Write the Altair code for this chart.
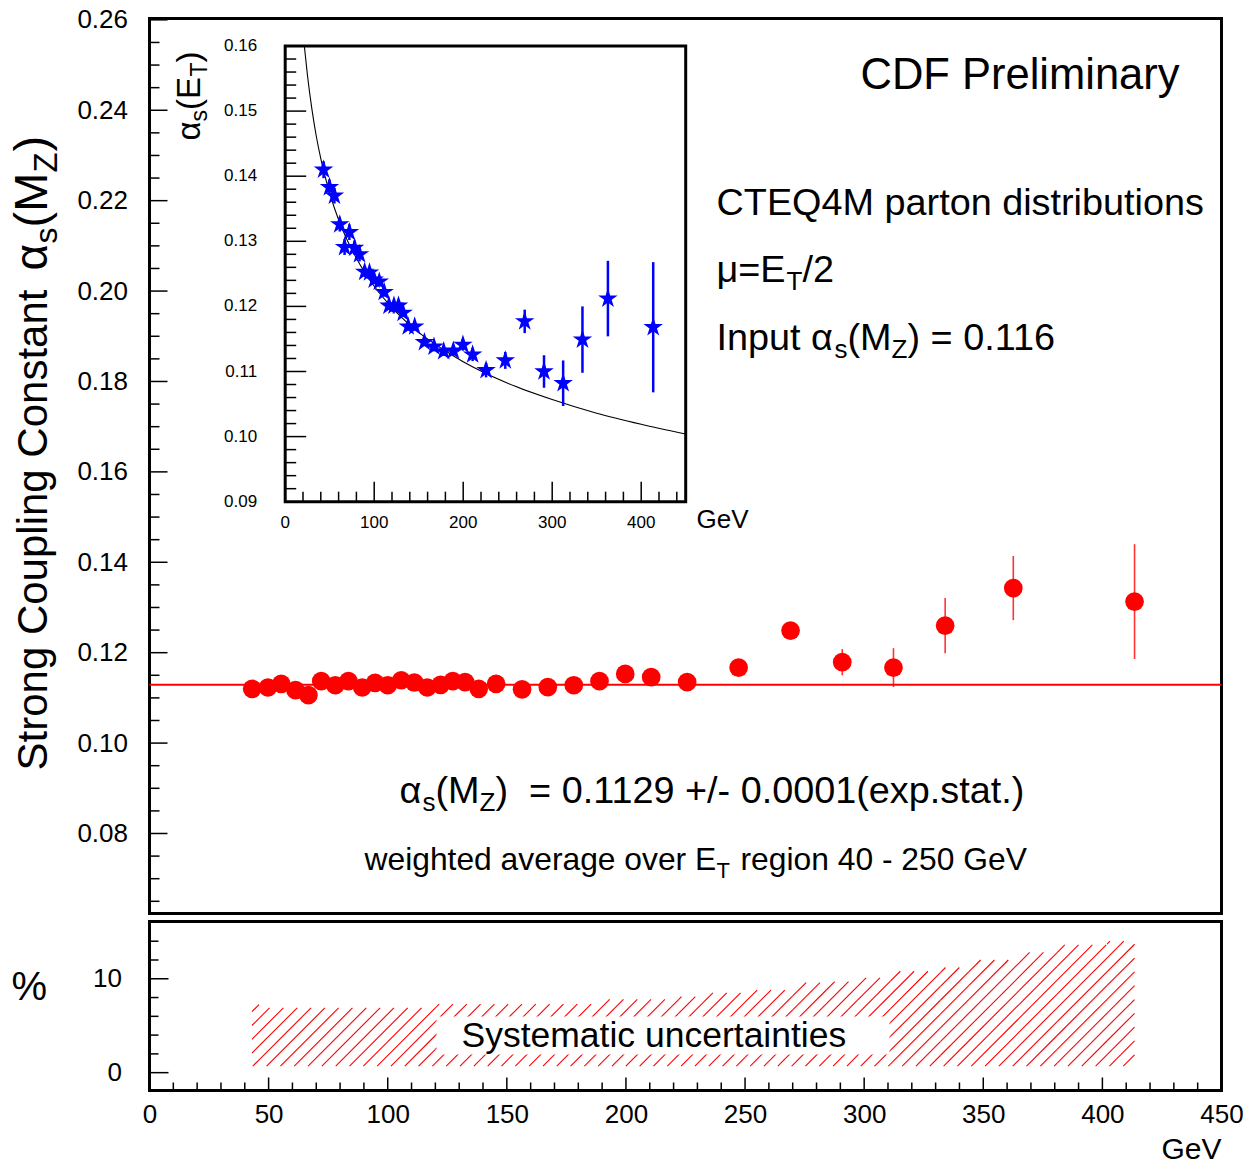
import math
import altair as alt
import pandas as pd

FONT = "Liberation Sans, Arial, Helvetica, sans-serif"

# ---------------------------------------------------------------- data ----
# jet transverse energy of each bin (GeV)
et = [43.1, 49.7, 55.3, 61.3, 66.7, 72.1, 78.0, 83.5, 89.3, 94.7, 100.0,
      105.7, 111.2, 116.6, 122.2, 127.3, 132.5, 138.2, 145.5, 156.4, 167.2,
      178.1, 188.9, 199.7, 210.6, 225.7, 247.3, 269.1, 290.8, 312.3, 334.0,
      362.6, 413.5]

# alpha_s(M_Z) extracted in each bin, with statistical error
alpha_mz = [0.1120, 0.1123, 0.1131, 0.1117, 0.1106, 0.1137, 0.1128, 0.1137,
            0.1123, 0.1133, 0.1128, 0.1139, 0.1134, 0.1123, 0.1129, 0.1137,
            0.1135, 0.1120, 0.1131, 0.1119, 0.1124, 0.1128, 0.1137, 0.1153,
            0.1146, 0.1135, 0.1167, 0.1249, 0.1179, 0.1167, 0.1260, 0.1343,
            0.1313]
alpha_mz_err = [0.0008, 0.0008, 0.0008, 0.0007, 0.0008, 0.0008, 0.0007,
                0.0007, 0.0005, 0.0005, 0.0005, 0.0005, 0.0005, 0.0004,
                0.0004, 0.0004, 0.0004, 0.0004, 0.0004, 0.0004, 0.0005,
                0.0005, 0.0006, 0.0007, 0.0008, 0.0009, 0.0011, 0.0019,
                0.0029, 0.0043, 0.0061, 0.0071, 0.0127]

# alpha_s(E_T) measured at the scale of each bin
alpha_et = [0.1410, 0.1383, 0.1370, 0.1326, 0.1291, 0.1314, 0.1290, 0.1280,
            0.1253, 0.1252, 0.1241, 0.1238, 0.1222, 0.1201, 0.1201, 0.1201,
            0.1190, 0.1169, 0.1169, 0.1145, 0.1138, 0.1131, 0.1132, 0.1141,
            0.1126, 0.1102, 0.1117, 0.1177, 0.1100, 0.1082, 0.1149, 0.1212,
            0.1168]
alpha_et_err = [0.0013, 0.0012, 0.0012, 0.0011, 0.0012, 0.0012, 0.0011,
                0.0011, 0.0008, 0.0008, 0.0007, 0.0007, 0.0007, 0.0006,
                0.0006, 0.0006, 0.0006, 0.0006, 0.0006, 0.0006, 0.0007,
                0.0007, 0.0008, 0.0009, 0.0010, 0.0011, 0.0013, 0.0018,
                0.0025, 0.0035, 0.0051, 0.0058, 0.0100]

# weighted average over 40 - 250 GeV
alpha_mz_avg = 0.1129

# running coupling alpha_s(E_T) for the average value
curve_et = [21.5, 25, 30, 35, 40, 50, 60, 70, 80, 90, 100, 125, 150, 175,
            200, 250, 300, 350, 400, 450]
curve_alpha = [0.1600, 0.1555, 0.1503, 0.1461, 0.1427, 0.1374, 0.1333,
               0.1301, 0.1274, 0.1251, 0.1231, 0.1191, 0.1160, 0.1136,
               0.1115, 0.1082, 0.1057, 0.1036, 0.1019, 0.1004]

# systematic uncertainty band (%): bin edges and upper edge per bin
sys_edges = [43, 46, 120, 190, 222, 231, 250, 270, 284, 297, 311, 332, 344,
             365, 381, 402, 413.5]
sys_upper = [7.5, 6.9, 7.3, 7.8, 8.1, 8.5, 8.8, 9.6, 9.7, 10.1, 10.8, 11.2,
             12.0, 12.8, 13.6, 14.0]
sys_lower = 0.7

# axis tick values
main_y_major = [0.08, 0.10, 0.12, 0.14, 0.16, 0.18, 0.20, 0.22, 0.24, 0.26]
main_y_minor = [round(0.065 + 0.005 * i, 3) for i in range(39)
                if round((0.065 + 0.005 * i) * 1000) % 20 != 0]
inset_y_labels = [0.09, 0.10, 0.11, 0.12, 0.13, 0.14, 0.15, 0.16]
inset_y_major = [0.10, 0.11, 0.12, 0.13, 0.14, 0.15]
inset_y_minor = [round(0.09 + 0.002 * i, 3) for i in range(1, 35) if i % 5 != 0]
inset_x_major = [0, 100, 200, 300, 400]
inset_x_minor = [20 * i for i in range(1, 23) if i % 5 != 0]
sys_y_labels = [0, 10]
sys_y_minor = [2, 4, 6, 8, 12, 14]
x_labels = [0, 50, 100, 150, 200, 250, 300, 350, 400, 450]
x_minor = [10 * i for i in range(1, 45) if i % 5 != 0]

# ---------------------------------------------------------------- scales --
W, H_MAIN, H_SYS = 1072, 895, 169
INSET_X0, INSET_X1, INSET_Y0, INSET_Y1 = 135.7, 536.2, 483.2, 27.5
X_MAIN = alt.Scale(domain=[0, 450], nice=False, zero=False)
Y_MAIN = alt.Scale(domain=[0.0623, 0.2603], nice=False, zero=False)
X_INSET = alt.Scale(domain=[0, 450], range=[INSET_X0, INSET_X1], nice=False, zero=False)
Y_INSET = alt.Scale(domain=[0.09, 0.16], range=[INSET_Y0, INSET_Y1], nice=False, zero=False)
Y_SYS = alt.Scale(domain=[-1.9, 16.1], nice=False, zero=False)

label_axis = dict(ticks=False, tickSize=0, domain=False, grid=False, title=None,
                  labelFont=FONT, labelColor="black", labelOverlap=False,
                  labelFlush=False)
AX_MAIN_Y = alt.Axis(values=main_y_major, format=".2f", labelFontSize=26,
                     labelPadding=22, **label_axis)
AX_SYS_X = alt.Axis(values=x_labels, format="d", labelFontSize=26,
                    labelPadding=11, **label_axis)
AX_SYS_Y = alt.Axis(values=sys_y_labels, format="d", labelFontSize=26,
                    labelPadding=28, **label_axis)

# five-pointed star marker
STAR = ("M0,-1L0.2245,-0.309L0.951,-0.309L0.3633,0.118L0.5878,0.809L0,0.382"
        "L-0.5878,0.809L-0.3633,0.118L-0.951,-0.309L-0.2245,-0.309Z")

one = pd.DataFrame({"k": [0]})


def text(s, x, y, size, align="left", baseline="alphabetic", angle=0):
    return alt.Chart(pd.DataFrame({"t": [s]})).mark_text(
        font=FONT, fontSize=size, align=align, baseline=baseline,
        angle=angle, color="black"
    ).encode(x=alt.value(x), y=alt.value(y), text="t:N")


def yticks(values, scale, x0, length, axis=None):
    return alt.Chart(pd.DataFrame({"v": values})).mark_rule(
        color="black", strokeWidth=1.5
    ).encode(y=alt.Y("v:Q", scale=scale, axis=axis),
             x=alt.value(x0), x2=alt.value(x0 + length))


def xticks(values, scale, y0, length, axis=None):
    return alt.Chart(pd.DataFrame({"v": values})).mark_rule(
        color="black", strokeWidth=1.5
    ).encode(x=alt.X("v:Q", scale=scale, axis=axis),
             y=alt.value(y0), y2=alt.value(y0 - length))


# ------------------------------------------------------------ main panel --
meas = pd.DataFrame({
    "et": et, "a": alpha_mz,
    "lo": [a - e for a, e in zip(alpha_mz, alpha_mz_err)],
    "hi": [a + e for a, e in zip(alpha_mz, alpha_mz_err)],
    "ae": alpha_et,
    "elo": [a - e for a, e in zip(alpha_et, alpha_et_err)],
    "ehi": [a + e for a, e in zip(alpha_et, alpha_et_err)],
})

avg_line = alt.Chart(pd.DataFrame({"a": [alpha_mz_avg]})).mark_rule(
    color="red", strokeWidth=2
).encode(y=alt.Y("a:Q", scale=Y_MAIN, axis=AX_MAIN_Y))

main_err = alt.Chart(meas).mark_rule(color="red", strokeWidth=1.6, opacity=0.8).encode(
    x=alt.X("et:Q", scale=X_MAIN, axis=None),
    y=alt.Y("lo:Q", scale=Y_MAIN, axis=AX_MAIN_Y), y2="hi:Q")

main_pts = alt.Chart(meas).mark_circle(color="red", size=350, opacity=1).encode(
    x=alt.X("et:Q", scale=X_MAIN, axis=None),
    y=alt.Y("a:Q", scale=Y_MAIN, axis=AX_MAIN_Y))

main_texts = [
    text("CDF Preliminary", 1030, 70, 43.5, align="right"),
    text("CTEQ4M parton distributions", 567, 196, 37.8),
    text("\u03bc=E", 567, 263, 37.8),
    text("T", 637, 271, 26),
    text("/2", 653, 263, 37.8),
    text("Input \u03b1", 567, 331, 37.8),
    text("s", 685, 339, 26),
    text("(M", 698, 331, 37.8),
    text("Z", 742, 339, 26),
    text(") = 0.116", 758, 331, 37.8),
    text("\u03b1", 250, 784, 37.8),
    text("s", 273, 792, 26),
    text("(M", 286, 784, 37.8),
    text("Z", 330, 792, 26),
    text(") \u00a0= 0.1129 +/- 0.0001(exp.stat.)", 346, 784, 37.8),
    text("weighted average over E", 215, 851, 31.8),
    text("T", 567, 859, 22),
    text("region 40 - 250 GeV", 591, 851, 31.8),
    # vertical axis title
    text("Strong Coupling Constant", -103, 752, 42, angle=270),
    text("\u03b1", -103, 252, 46, angle=270),
    text("s", -93, 225, 32, angle=270),
    text("(M", -103, 209, 47, angle=270),
    text("Z", -93, 154, 33, angle=270),
    text(")", -103, 133, 47, angle=270),
]

main_group = alt.layer(
    yticks(main_y_major, Y_MAIN, 0, 18, AX_MAIN_Y),
    yticks(main_y_minor, Y_MAIN, 0, 10, AX_MAIN_Y),
    avg_line, main_err, main_pts, *main_texts,
)

# ----------------------------------------------------------------- inset --
frame = alt.Chart(pd.DataFrame({"x0": [0], "x1": [450], "y0": [0.09], "y1": [0.16]})).mark_rect(
    filled=False, stroke="black", strokeWidth=3
).encode(
    x=alt.X("x0:Q", scale=X_INSET, axis=None), x2="x1:Q",
    y=alt.Y("y0:Q", scale=Y_INSET, axis=None), y2="y1:Q")

inset_x_lab = alt.Chart(pd.DataFrame({"v": inset_x_major})).mark_text(
    font=FONT, fontSize=17, baseline="middle", align="center", color="black"
).encode(x=alt.X("v:Q", scale=X_INSET, axis=None), y=alt.value(INSET_Y0 + 21),
         text=alt.Text("v:Q", format="d"))

inset_y_lab = alt.Chart(pd.DataFrame({"v": inset_y_labels})).mark_text(
    font=FONT, fontSize=17, baseline="middle", align="right", color="black"
).encode(y=alt.Y("v:Q", scale=Y_INSET, axis=None), x=alt.value(INSET_X0 - 28),
         text=alt.Text("v:Q", format=".2f"))

curve = alt.Chart(pd.DataFrame({"et": curve_et, "a": curve_alpha})).mark_line(
    color="black", strokeWidth=1.1, interpolate="monotone"
).encode(x=alt.X("et:Q", scale=X_INSET, axis=None),
         y=alt.Y("a:Q", scale=Y_INSET, axis=None))

inset_err = alt.Chart(meas).mark_rule(color="blue", strokeWidth=2.5).encode(
    x=alt.X("et:Q", scale=X_INSET, axis=None),
    y=alt.Y("elo:Q", scale=Y_INSET, axis=None), y2="ehi:Q")

stars = alt.Chart(meas).mark_point(
    shape=STAR, filled=True, size=420, color="blue", opacity=1
).encode(x=alt.X("et:Q", scale=X_INSET, axis=None),
         y=alt.Y("ae:Q", scale=Y_INSET, axis=None))

inset_group = alt.layer(
    frame,
    yticks(inset_y_major, Y_INSET, INSET_X0, 21),
    yticks(inset_y_minor, Y_INSET, INSET_X0, 11),
    xticks(inset_x_major, X_INSET, INSET_Y0, 20),
    xticks(inset_x_minor, X_INSET, INSET_Y0, 10),
    inset_x_lab, inset_y_lab,
    curve, inset_err, stars,
    text("GeV", 547, 501, 26, baseline="middle"),
    text("\u03b1", 50, 122, 33, angle=270),
    text("s", 57, 103, 23, angle=270),
    text("(E", 50, 91.5, 33, angle=270),
    text("T", 57, 58, 23, angle=270),
    text(")", 50, 44, 33, angle=270),
)

main_chart = alt.layer(main_group, inset_group).resolve_scale(
    x="independent", y="independent"
).properties(width=W, height=H_MAIN)

# ------------------------------------------------------ systematics panel --
K = (W / 450.0) / (H_SYS / 18.0)   # %/GeV for a 45 degree hatch line
SPACING = 5.8                       # hatch spacing along E_T (GeV)
rows = []
for x0, x1, hi in zip(sys_edges[:-1], sys_edges[1:], sys_upper):
    n0 = math.floor((x0 - hi / K) / SPACING) - 1
    n1 = math.ceil(x1 / SPACING) + 1
    for n in range(n0, n1 + 1):
        c = n * SPACING
        xa = max(x0, c + sys_lower / K)
        xb = min(x1, c + hi / K)
        if xb - xa > 1e-6:
            rows.append({"xa": xa, "ya": K * (xa - c), "xb": xb, "yb": K * (xb - c)})
hatch_df = pd.DataFrame(rows)

hatch = alt.Chart(hatch_df).mark_rule(color="red", strokeWidth=1.1).encode(
    x=alt.X("xa:Q", scale=X_MAIN, axis=AX_SYS_X), x2="xb:Q",
    y=alt.Y("ya:Q", scale=Y_SYS, axis=AX_SYS_Y), y2="yb:Q")

label_box = alt.Chart(one).mark_rect(color="white").encode(
    x=alt.value(287), x2=alt.value(740), y=alt.value(95), y2=alt.value(133))

sys_chart = alt.layer(
    hatch, label_box,
    xticks(x_labels, X_MAIN, H_SYS, 13, AX_SYS_X),
    xticks(x_minor, X_MAIN, H_SYS, 8, AX_SYS_X),
    yticks(sys_y_labels, Y_SYS, 0, 19, AX_SYS_Y),
    yticks(sys_y_minor, Y_SYS, 0, 9, AX_SYS_Y),
    text("Systematic uncertainties", 312, 114, 35.5, baseline="middle"),
    text("%", -138, 66, 40, baseline="middle"),
    text("GeV", 1072, 228, 30, align="right", baseline="middle"),
).properties(width=W, height=H_SYS)

chart = alt.vconcat(main_chart, sys_chart, spacing=4).properties(
    padding={"left": 6.5, "top": 4.5, "right": 0, "bottom": 0}
).configure_view(stroke="black", strokeWidth=3).configure_axis(
    labelFont=FONT, labelColor="black")

chart.save("out.html", embed_options={"renderer": "svg", "actions": False})
